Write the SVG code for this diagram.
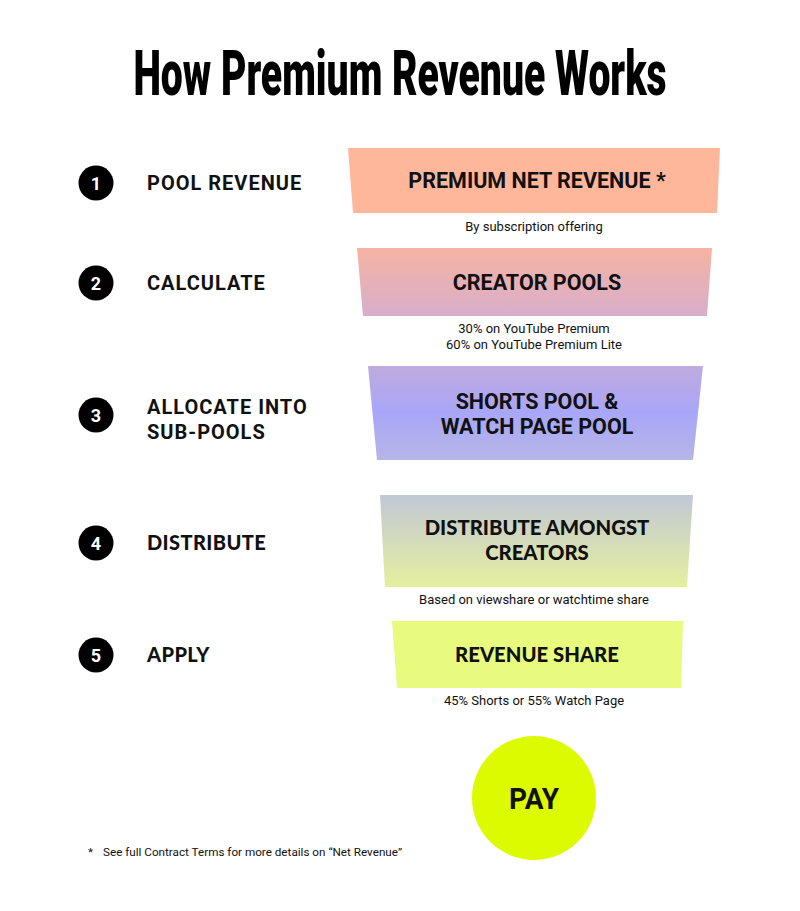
<svg xmlns="http://www.w3.org/2000/svg" width="800" height="911" viewBox="0 0 800 911">
<defs>
<style>
.title{font-family:Roboto,"Liberation Sans",sans-serif;font-weight:900;font-size:63px;fill:#000}
.step{font-family:Roboto,"Liberation Sans",sans-serif;font-weight:bold;font-size:20px;letter-spacing:1px;fill:#111}
.step2{font-family:Lato,Roboto,sans-serif;font-weight:900;font-size:20px;letter-spacing:0.4px;fill:#111}
.num{font-family:Roboto,"Liberation Sans",sans-serif;font-weight:bold;font-size:18px;fill:#fff;text-anchor:middle}
.lab{font-family:Roboto,"Liberation Sans",sans-serif;font-weight:bold;font-size:21.5px;fill:#111;text-anchor:middle}
.lab2{font-family:Lato,Roboto,sans-serif;font-weight:900;font-size:20.3px;fill:#111;text-anchor:middle}
.sub{font-family:Roboto,"Liberation Sans",sans-serif;font-size:13px;fill:#111;text-anchor:middle}
.foot{font-family:Roboto,"Liberation Sans",sans-serif;font-size:11.7px;fill:#111}
</style>
<linearGradient id="g2" x1="0" y1="0" x2="0" y2="1"><stop offset="0" stop-color="#F6B3A2"/><stop offset="1" stop-color="#D8AECC"/></linearGradient>
<linearGradient id="g3" x1="0" y1="0" x2="0" y2="1"><stop offset="0" stop-color="#C0AADF"/><stop offset="0.5" stop-color="#A8A6F8"/><stop offset="1" stop-color="#B6B6E6"/></linearGradient>
<linearGradient id="g4" x1="0" y1="0" x2="0" y2="1"><stop offset="0" stop-color="#C2C8D6"/><stop offset="1" stop-color="#E5EF9E"/></linearGradient>
</defs>
<rect width="800" height="911" fill="#fff"/>
<text class="title" transform="translate(400,95) scale(0.62,1)" x="0" y="0" text-anchor="middle" textLength="860" lengthAdjust="spacingAndGlyphs">How Premium Revenue Works</text>

<g id="step1"><circle cx="96" cy="183" r="17.5" fill="#000"/><text class="num" x="96" y="189.5">1</text><text class="step" x="147" y="190">POOL REVENUE</text></g>
<g id="step2"><circle cx="96" cy="283" r="17.5" fill="#000"/><text class="num" x="96" y="289.5">2</text><text class="step" x="147" y="290">CALCULATE</text></g>
<g id="step3"><circle cx="96" cy="415" r="17.5" fill="#000"/><text class="num" x="96" y="421.5">3</text><text class="step" x="147" y="414">ALLOCATE INTO</text><text class="step" x="147" y="439">SUB-POOLS</text></g>
<g id="step4"><circle cx="96" cy="543" r="17.5" fill="#000"/><text class="num" x="96" y="549.5">4</text><text class="step2" x="147" y="550">DISTRIBUTE</text></g>
<g id="step5"><circle cx="96" cy="655" r="17.5" fill="#000"/><text class="num" x="96" y="661.5">5</text><text class="step2" x="147" y="662">APPLY</text></g>

<g id="node1"><polygon points="348,148 720,148 717,213 353,213" fill="#FFB79C"/><text class="lab" x="537" y="188">PREMIUM NET REVENUE *</text><text class="sub" x="534" y="231">By subscription offering</text></g>
<g id="node2"><polygon points="357,248 712,248 707,316 363,316" fill="url(#g2)"/><text class="lab" x="537" y="290">CREATOR POOLS</text><text class="sub" x="534" y="333">30% on YouTube Premium</text><text class="sub" x="534" y="349">60% on YouTube Premium Lite</text></g>
<g id="node3"><polygon points="368,366 703,366 693,460 377,460" fill="url(#g3)"/><text class="lab" x="537" y="409">SHORTS POOL &amp;</text><text class="lab" x="537" y="434">WATCH PAGE POOL</text></g>
<g id="node4"><polygon points="380,495 693,495 687,587 385,587" fill="url(#g4)"/><text class="lab2" x="537" y="535">DISTRIBUTE AMONGST</text><text class="lab2" x="537" y="560">CREATORS</text><text class="sub" x="534" y="604">Based on viewshare or watchtime share</text></g>
<g id="node5"><polygon points="392,621 683,621 681,688 397,688" fill="#E8FB7E"/><text class="lab2" x="537" y="662">REVENUE SHARE</text><text class="sub" x="534" y="705">45% Shorts or 55% Watch Page</text></g>
<g id="pay"><circle cx="534" cy="798" r="62" fill="#DDFB00"/><text class="lab" x="534" y="809" style="font-size:29px" textLength="50" lengthAdjust="spacingAndGlyphs">PAY</text></g>
<g id="connectors"></g>
<text class="foot" x="88" y="856">*</text>
<text class="foot" x="103" y="856">See full Contract Terms for more details on “Net Revenue”</text>
</svg>
